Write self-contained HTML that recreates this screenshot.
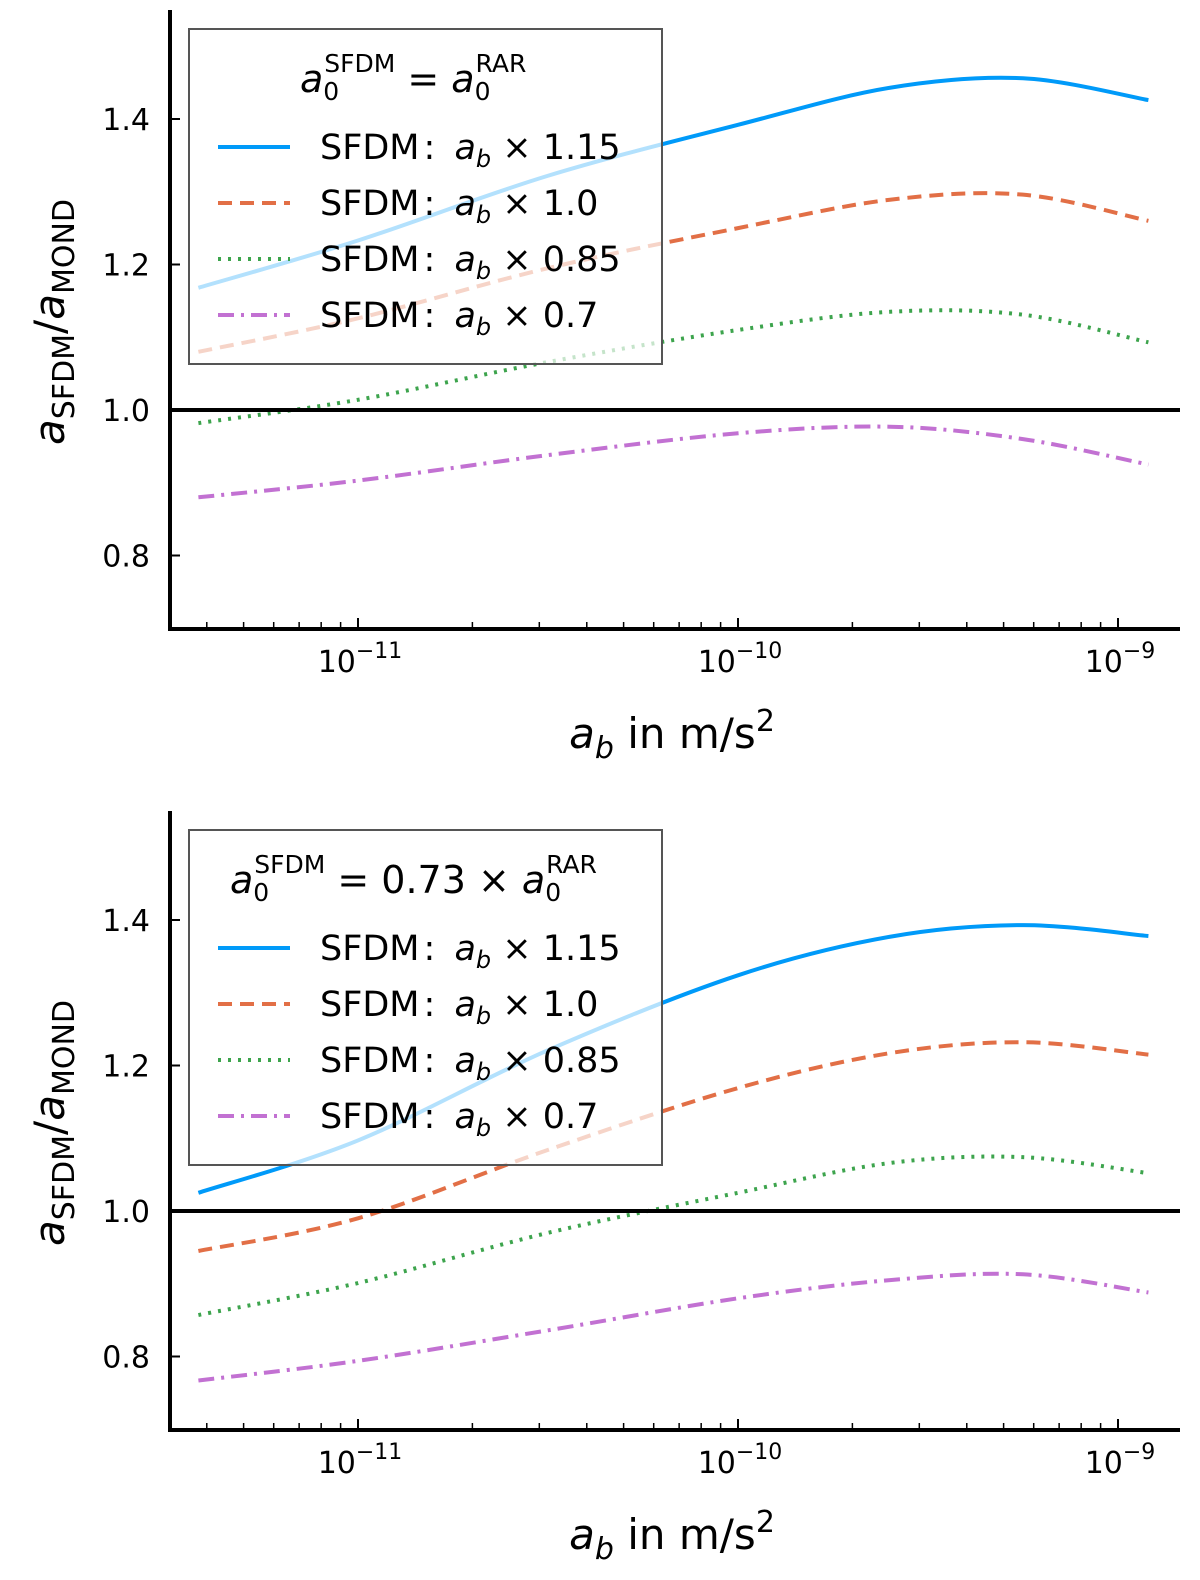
<!DOCTYPE html>
<html><head><meta charset="utf-8"><style>
html,body{margin:0;padding:0;background:#fff;overflow:hidden;width:1200px;height:1580px;}
svg{display:block;}
svg text{font-family:"DejaVu Sans","Liberation Sans",sans-serif;fill:#000;}
</style></head><body>
<svg id="chart" width="1200" height="1580" viewBox="0 0 1200 1580" xmlns="http://www.w3.org/2000/svg"></svg>
<script>
const xLogs=[-11.42,-11,-10.5,-10,-9.6,-9.25,-8.92];
const topBlue=[1.168,1.233,1.322,1.392,1.443,1.456,1.426];
const topOrange=[1.08,1.126,1.195,1.25,1.289,1.296,1.26];
const topGreen=[0.982,1.014,1.066,1.11,1.135,1.131,1.093];
const topPurple=[0.88,0.903,0.938,0.968,0.977,0.96,0.925];
const botBlue=[1.025,1.097,1.221,1.324,1.377,1.393,1.378];
const botOrange=[0.945,0.99,1.084,1.169,1.217,1.232,1.215];
const botGreen=[0.857,0.901,0.97,1.025,1.066,1.074,1.052];
const botPurple=[0.767,0.794,0.836,0.88,0.905,0.913,0.888];
const yTicks=[0.8,1.0,1.2,1.4];
const xTickExp=[-11,-10,-9];
const legendFactors=["1.15","1.0","0.85","0.7"];

const NS="http://www.w3.org/2000/svg";
const svg=document.getElementById('chart');
function el(tag,attrs,parent){const e=document.createElementNS(NS,tag);for(const k in attrs)e.setAttribute(k,attrs[k]);(parent||svg).appendChild(e);return e;}
const styles=[
 {c:"#009af9",d:""},
 {c:"#e26f46",d:"14,8"},
 {c:"#3da44d",d:"3,7"},
 {c:"#c271d2",d:"16,7,3,7"}];
const names=["blue","orange","green","purple"];

function panel(off,series,titleFn,pname){
  const g=el('g',{});
  
  
  const X=v=>738+(v+10)*380;
  const Y=v=>off+410-(v-1.0)*727.5;
  series.forEach((s,i)=>{
    const pts=xLogs.map((x,j)=>[X(x),Y(s[j])]);
    let d="M"+pts[0][0]+","+pts[0][1];
    for(let j=0;j<pts.length-1;j++){
      const p0=pts[Math.max(j-1,0)],p1=pts[j],p2=pts[j+1],p3=pts[Math.min(j+2,pts.length-1)];
      const c1=[p1[0]+(p2[0]-p0[0])/6,p1[1]+(p2[1]-p0[1])/6];
      const c2=[p2[0]-(p3[0]-p1[0])/6,p2[1]-(p3[1]-p1[1])/6];
      d+=` C${c1[0]},${c1[1]} ${c2[0]},${c2[1]} ${p2[0]},${p2[1]}`;
    }
    const p=el('path',{d:d,fill:"none",stroke:styles[i].c,"stroke-width":4,"stroke-dasharray":styles[i].d},g);
    
    
  });
  const r=el('line',{x1:168,x2:1180,y1:Y(1.0),y2:Y(1.0),stroke:"#000","stroke-width":4},g);
  
  
  const ax=el('path',{d:`M170,${off+10} V${off+629} H1180`,fill:"none",stroke:"#000","stroke-width":4},g);
  
  
  yTicks.forEach(t=>{
    el('line',{x1:170,x2:180,y1:Y(t),y2:Y(t),stroke:"#000","stroke-width":2},g);
    const tx=el('text',{x:150,y:Y(t)+11,"font-size":30,"text-anchor":"end"},g);
    tx.textContent=t.toFixed(1);
    
    
  });
  xTickExp.forEach(e=>{
    const x=X(e);
    el('line',{x1:x,x2:x,y1:off+628,y2:off+618,stroke:"#000","stroke-width":2},g);
    const tx=el('text',{x:x+2,y:off+672,"font-size":30,"text-anchor":"middle"},g);
    tx.innerHTML=`10<tspan dy="-14" font-size="22">−${-e}</tspan>`;
    
    
  });
  for(let e=-12;e<=-9;e++)for(let m=2;m<10;m++){const v=e+Math.log10(m);if(v>-11.5&&v<-8.84){const x=X(v);el('line',{x1:x,x2:x,y1:off+628,y2:off+622,stroke:"#000","stroke-width":1.5},g);}}
  const xl=el('text',{x:672,y:off+748,"font-size":42,"text-anchor":"middle"},g);
  xl.innerHTML=`<tspan font-style="italic">a</tspan><tspan font-style="italic" font-size="30" dy="10">b</tspan><tspan dy="-10"> in m/s</tspan><tspan font-size="30" dy="-17">2</tspan>`;
  
  
  const yl=el('text',{transform:`translate(64,${off+322}) rotate(-90)`,"font-size":42,"text-anchor":"middle"},g);
  yl.innerHTML=`<tspan font-style="italic">a</tspan><tspan font-size="30" dy="10">SFDM</tspan><tspan dy="-10">/</tspan><tspan font-style="italic">a</tspan><tspan font-size="30" dy="10">MOND</tspan>`;
  
  
  const lg=el('g',{},g);
  
  
  el('rect',{x:189,y:off+29,width:473,height:335,fill:"#fff","fill-opacity":0.7,stroke:"#555","stroke-width":2},lg);
  const tt=el('text',{x:titleFn.x,y:off+92,"font-size":38},lg);
  tt.innerHTML=titleFn.html;
  
  
  legendFactors.forEach((f,i)=>{
    const y=off+147+i*56;
    el('line',{x1:218,x2:290,y1:y,y2:y,stroke:styles[i].c,"stroke-width":4,"stroke-dasharray":styles[i].d},lg);
    const t=el('text',{x:320,y:y+12,"font-size":35},lg);
    t.innerHTML=`SFDM<tspan dx="4">:</tspan> <tspan dx="8" font-style="italic">a</tspan><tspan font-style="italic" font-size="24" dy="8">b</tspan><tspan dy="-8"> × ${f}</tspan>`;
    
    
  });
}
panel(0,[topBlue,topOrange,topGreen,topPurple],{x:300,html:`<tspan font-style="italic">a</tspan><tspan font-size="25" dy="8">0</tspan><tspan font-size="25" dy="-28" dx="-15">SFDM</tspan><tspan dy="20"> = </tspan><tspan font-style="italic">a</tspan><tspan font-size="25" dy="8">0</tspan><tspan font-size="25" dy="-28" dx="-15">RAR</tspan>`},'top-panel');
panel(801,[botBlue,botOrange,botGreen,botPurple],{x:230,html:`<tspan font-style="italic">a</tspan><tspan font-size="25" dy="8">0</tspan><tspan font-size="25" dy="-28" dx="-15">SFDM</tspan><tspan dy="20"> = 0.73 × </tspan><tspan font-style="italic">a</tspan><tspan font-size="25" dy="8">0</tspan><tspan font-size="25" dy="-28" dx="-15">RAR</tspan>`},'bottom-panel');
</script>
</body></html>
